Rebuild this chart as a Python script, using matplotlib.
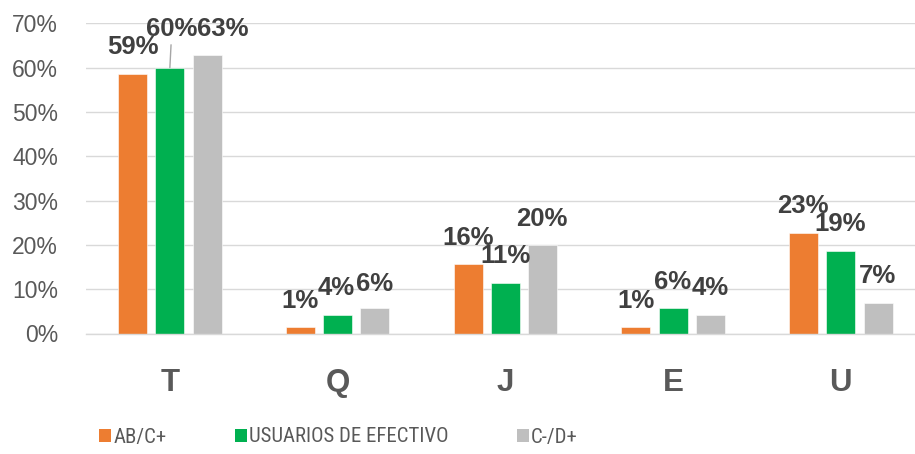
import matplotlib
matplotlib.use("Agg")
import matplotlib.pyplot as plt
from matplotlib.patches import Patch
from matplotlib import font_manager
import numpy as np

categories = ["T", "Q", "J", "E", "U"]
series_names = ["AB/C+", "USUARIOS DE EFECTIVO", "C-/D+"]
ab_c = [0.586, 0.014, 0.156, 0.014, 0.2275]
usuarios = [0.600, 0.042, 0.113, 0.057, 0.186]
c_d = [0.628, 0.057, 0.200, 0.042, 0.0695]
yticks = [0.0, 0.1, 0.2, 0.3, 0.4, 0.5, 0.6, 0.7]

colors = ["#ED7D31", "#00B050", "#BFBFBF"]
# label offsets (pixels) from bar top, per series per category
label_offsets = [
    [(0, 27), (0, 26), (0, 26), (0, 26), (-1, 27)],
    [(2, 39), (-1, 27), (0, 27), (-1, 26), (-1, 27)],
    [(16, 26), (0, 24), (-1, 26), (0, 27), (-1, 27)],
]

plt.rcParams['font.family'] = ['Liberation Sans', 'DejaVu Sans']

fig = plt.figure(figsize=(9.15, 4.54), dpi=100)
ax = fig.add_axes([86/915, 120.5/454, 829/915, 310.2/454])

x = np.arange(len(categories))
width = 0.173
step = 0.222
all_series = [ab_c, usuarios, c_d]
for i, (vals, col) in enumerate(zip(all_series, colors)):
    xs = x + (i - 1) * step
    ax.bar(xs, vals, width=width, color=col, zorder=3, edgecolor='white', linewidth=0.4)
    for j, (xx, v) in enumerate(zip(xs, vals)):
        dx, dy = label_offsets[i][j]
        kw = {}
        if i == 1 and j == 0:
            kw['arrowprops'] = dict(arrowstyle='-', color='#A6A6A6', lw=1.0,
                                    shrinkA=1, shrinkB=0)
        ax.annotate(f"{round(v*100):.0f}%", xy=(xx, v), xytext=(dx, dy),
                    textcoords='offset pixels', ha='center', va='center',
                    fontsize=18.5, fontweight='bold', color='#404040',
                    annotation_clip=False, zorder=5, **kw)

ax.set_xlim(-0.5, 4.442)
ax.set_ylim(0, 0.7)
ax.set_yticks(yticks)
ax.set_yticklabels([f"{int(round(t*100))}%" for t in yticks])
ax.set_xticks(x)
ax.set_xticklabels(categories)
ax.tick_params(axis='y', length=0, pad=20, labelsize=16.5, labelcolor='#595959')
ax.tick_params(axis='x', length=0, pad=25, labelsize=22.5, labelcolor='#595959')
for lbl in ax.get_xticklabels():
    lbl.set_fontweight('bold')
ax.grid(axis='y', color='#D9D9D9', linewidth=1.0, zorder=0)
for s in ['top', 'right', 'left']:
    ax.spines[s].set_visible(False)
ax.spines['bottom'].set_color('#D9D9D9')
ax.spines['bottom'].set_linewidth(1.0)
ax.spines['bottom'].set_zorder(4)

# pick the narrowest available sans font for the legend, sized to the reference width
available = {f.name for f in font_manager.fontManager.ttflist}
candidates = [c for c in ['Liberation Sans Narrow', 'DejaVu Sans Condensed', 'Roboto Condensed',
                          'Roboto', 'Liberation Sans', 'Lato'] if c in available] or ['DejaVu Sans']
renderer = fig.canvas.get_renderer()
best = None
for fam in candidates:
    t = fig.text(0, 0, series_names[1], family=fam, size=10)
    w = t.get_window_extent(renderer).width
    t.remove()
    if best is None or w < best[1]:
        best = (fam, w)
leg_family = best[0]
fs = min(15.5, 10 * 199 / best[1])
fspx = fs / 0.72

handles = [Patch(facecolor=c, edgecolor='none') for c in colors]
leg = fig.legend(handles, series_names, loc='center left',
                 bbox_to_anchor=(99/915, 1 - 437/454), ncol=3, frameon=False,
                 prop={'family': leg_family, 'size': fs},
                 handlelength=12/fspx, handleheight=12/fspx, handletextpad=2.5/fspx,
                 columnspacing=68/fspx, borderpad=0, borderaxespad=0)
for t in leg.get_texts():
    t.set_color('#595959')

fig.savefig("out.png", dpi=100)
